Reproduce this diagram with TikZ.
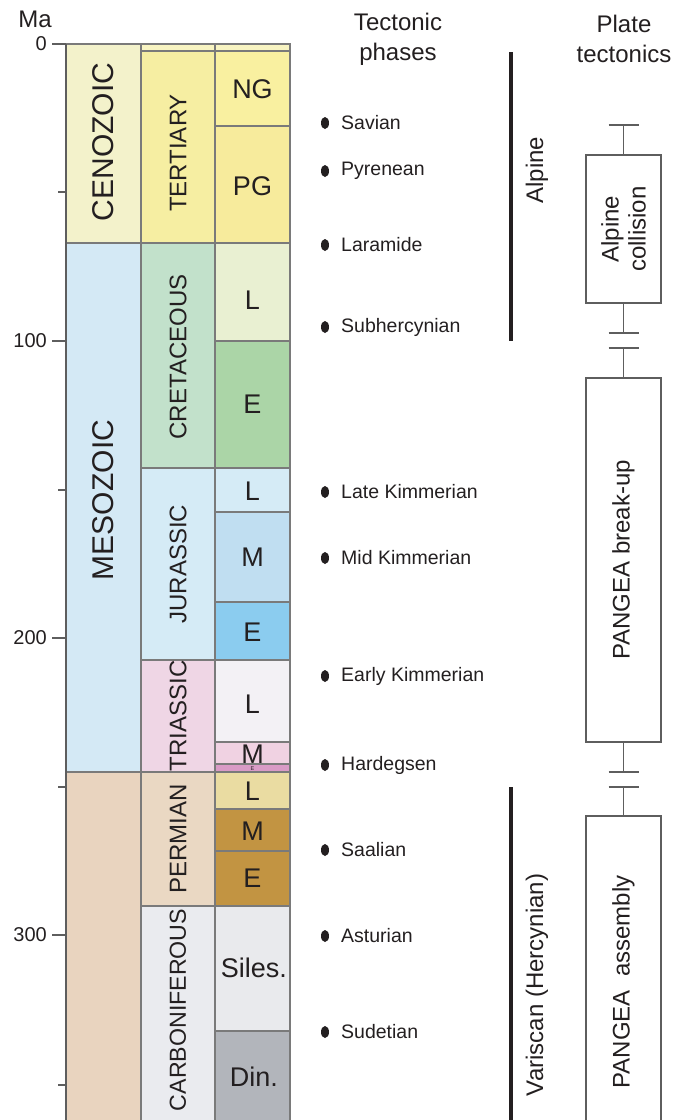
\documentclass[tikz,border=0pt]{standalone}
\usepackage{fontspec}
\setmainfont{Liberation Sans}
\usetikzlibrary{shapes.geometric}

\definecolor{ink}{HTML}{231F20}
\definecolor{gridgray}{HTML}{7A7A7A}
\definecolor{edgegray}{HTML}{5E5E5E}
\definecolor{ceno}{HTML}{F3F2CB}
\definecolor{meso}{HTML}{D4E9F5}
\definecolor{paleo}{HTML}{E9D4BF}
\definecolor{quat}{HTML}{F8F4C2}
\definecolor{tert}{HTML}{F6EEA2}
\definecolor{neog}{HTML}{F9F0A0}
\definecolor{paleog}{HTML}{F7EB9C}
\definecolor{cret}{HTML}{C2E1CB}
\definecolor{lcret}{HTML}{E9F0D2}
\definecolor{ecret}{HTML}{ABD5A7}
\definecolor{jur}{HTML}{D5EBF6}
\definecolor{ljur}{HTML}{D5EBF6}
\definecolor{mjur}{HTML}{C0DEF1}
\definecolor{ejur}{HTML}{8BCCEF}
\definecolor{tri}{HTML}{EFD6E5}
\definecolor{ltri}{HTML}{F3F1F5}
\definecolor{mtri}{HTML}{F0D2E2}
\definecolor{etri}{HTML}{D99BC6}
\definecolor{perm}{HTML}{EAD8C3}
\definecolor{lperm}{HTML}{EADCA2}
\definecolor{mperm}{HTML}{C29442}
\definecolor{eperm}{HTML}{C29442}
\definecolor{carb}{HTML}{EAEBEF}
\definecolor{siles}{HTML}{E9EAED}
\definecolor{dinan}{HTML}{B2B5BB}

\newcommand\gcell[5]{\filldraw[grid, fill=#5] (#1,#3) rectangle (#2,#4);}

\begin{document}
\begin{tikzpicture}[x=1pt, y=-1pt,
  grid/.style={draw=gridgray, line width=1.2pt},
  tickline/.style={draw=edgegray, line width=1.4pt},
  txt/.style={text=ink, inner sep=0pt},
  axislab/.style={txt, anchor=east, font=\fontsize{20}{22}\selectfont},
  head/.style={txt, align=center, font=\fontsize{24}{30}\selectfont},
  eralab/.style={txt, rotate=90, font=\fontsize{30}{32}\selectfont},
  perlab/.style={txt, rotate=90, font=\fontsize{24}{26}\selectfont},
  epolab/.style={txt, font=\fontsize{27}{29}\selectfont},
  phase/.style={txt, anchor=west, font=\fontsize{19.5}{22}\selectfont},
  dot/.style={shape=ellipse, fill=ink, draw=none, inner sep=0pt,
    minimum width=8pt, minimum height=12pt},
  orobar/.style={draw=ink, line width=4pt},
  orolab/.style={txt, rotate=90, font=\fontsize{24}{26}\selectfont},
  platebox/.style={draw=edgegray, line width=1.3pt, fill=white,
    minimum width=75pt, inner sep=0pt},
  platetxt/.style={txt, rotate=90, align=center,
    font=\fontsize{24}{27}\selectfont},
  whisker/.style={draw=edgegray, line width=1.5pt}]

\useasboundingbox (0,0) rectangle (685,1120);
\clip (0,0) rectangle (685,1120);

% ---------- eras ----------
\gcell{66}{141}{44}{243}{ceno}
\gcell{66}{141}{243}{772}{meso}
\gcell{66}{141}{772}{1135}{paleo}

% ---------- periods ----------
\gcell{141}{215}{44}{51}{quat}
\gcell{141}{215}{51}{243}{tert}
\gcell{141}{215}{243}{468}{cret}
\gcell{141}{215}{468}{660}{jur}
\gcell{141}{215}{660}{772}{tri}
\gcell{141}{215}{772}{906}{perm}
\gcell{141}{215}{906}{1135}{carb}

% ---------- epochs ----------
\gcell{215}{290}{44}{51}{quat}
\gcell{215}{290}{51}{126}{neog}
\gcell{215}{290}{126}{243}{paleog}
\gcell{215}{290}{243}{341}{lcret}
\gcell{215}{290}{341}{468}{ecret}
\gcell{215}{290}{468}{512}{ljur}
\gcell{215}{290}{512}{602}{mjur}
\gcell{215}{290}{602}{660}{ejur}
\gcell{215}{290}{660}{742}{ltri}
\gcell{215}{290}{742}{764}{mtri}
\begin{scope}
  \clip (215,742) rectangle (290,764);
  \node[epolab] (mtriT) at (252.5,754.5) {M};
\end{scope}
\gcell{215}{290}{764}{772}{etri}
\node[txt, font=\fontsize{5.5}{6}\selectfont] (etriT) at (252.5,769) {E};
\gcell{215}{290}{772}{809}{lperm}
\gcell{215}{290}{809}{851}{mperm}
\gcell{215}{290}{851}{906}{eperm}
\gcell{215}{290}{906}{1031}{siles}
\gcell{215}{290}{1031}{1135}{dinan}

% left edge of the column
\draw[draw=edgegray, line width=1.8pt] (66,44) -- (66,1125);

% ---------- time axis ----------
\foreach \yy/\lab in {44/0, 341/100, 638/200, 935/300}{
  \draw[tickline] (52,\yy) -- (66,\yy);
  \node[axislab] (ax\lab) at (47,\yy) {\lab};
}
\foreach \yy in {192, 490, 787, 1085}{
  \draw[tickline] (58,\yy) -- (66,\yy);
}
\node[txt, font=\fontsize{24}{26}\selectfont] (ma) at (35,19) {Ma};

% ---------- unit names ----------
\node[eralab] (cenoT) at (103.5,142) {CENOZOIC};
\node[eralab] (mesoT) at (103.5,500) {MESOZOIC};

\node[perlab] (tertT) at (178,153) {TERTIARY};
\node[perlab] (cretT) at (178,357) {CRETACEOUS};
\node[perlab] (jurT)  at (178,564) {JURASSIC};
\node[perlab] (triT)  at (178,716) {TRIASSIC};
\node[perlab] (permT) at (178,839) {PERMIAN};
\node[perlab, font=\fontsize{23.2}{25}\selectfont] (carbT) at (178,1010) {CARBONIFEROUS};

\node[epolab] (ngT)   at (252.5,89)  {NG};
\node[epolab] (pgT)   at (252.5,186) {PG};
\node[epolab] (lcT)   at (252.5,300) {L};
\node[epolab] (ecT)   at (252.5,404) {E};
\node[epolab] (ljT)   at (252.5,491) {L};
\node[epolab] (mjT)   at (252.5,557) {M};
\node[epolab] (ejT)   at (252.5,632) {E};
\node[epolab] (ltT)   at (252.5,704) {L};
\node[epolab] (lpT)   at (252.5,791) {L};
\node[epolab] (mpT)   at (252.5,831) {M};
\node[epolab] (epT)   at (252.5,878) {E};
\node[epolab] (silT)  at (254,968) {Siles.};
\node[epolab] (dinT)  at (254,1077) {Din.};

% ---------- headers ----------
\node[head] (hPhase) at (398,39) {Tectonic\\phases};
\node[head] (hPlate) at (624,39) {Plate\\tectonics};

% ---------- tectonic phases ----------
\foreach \i/\yy/\name in {1/123/Savian, 2/171/Pyrenean, 3/245/Laramide,
    4/327/Subhercynian, 5/492/Late Kimmerian, 6/558/Mid Kimmerian,
    7/676/Early Kimmerian, 8/765/Hardegsen, 9/850/Saalian,
    10/936/Asturian, 11/1032/Sudetian}{
  \node[dot] (dot\i) at (325,\yy) {};
  \node[phase] (ph\i) at (341,\yy) {\name};
}

% ---------- orogenies ----------
\coordinate (alpTop) at (511,52);
\coordinate (alpBot) at (511,341);
\draw[orobar] (alpTop) -- (alpBot);
\node[orolab] (alpT) at (537,170) {Alpine};

\coordinate (varTop) at (511,787);
\coordinate (varBot) at (511,1125);
\draw[orobar] (varTop) -- (varBot);
\node[orolab] (varT) at (537,985) {Variscan (Hercynian)};

% ---------- plate tectonics ----------
\node[platebox, minimum height=148pt] (box1) at (623.5,229) {};
\node[platetxt] (box1T) at (box1.center) {Alpine\\collision};
\node[platebox, minimum height=364pt] (box2) at (623.5,560) {};
\node[platetxt] (box2T) at (box2.center) {PANGEA break-up};
\node[platebox, minimum height=324pt] (box3) at (623.5,978) {};
\node[platetxt] (box3T) at (623.5,982) {PANGEA\ \ assembly};

\coordinate (c1) at (623.5,125);
\coordinate (c2) at (623.5,333);
\coordinate (c3) at (623.5,348);
\coordinate (c4) at (623.5,772);
\coordinate (c5) at (623.5,787);

\draw[whisker] (box1.north) -- (c1);
\draw[whisker] (box1.south) -- (c2);
\draw[whisker] (box2.north) -- (c3);
\draw[whisker] (box2.south) -- (c4);
\draw[whisker] (box3.north) -- (c5);
\foreach \c in {c1,c2,c3,c4,c5}{
  \draw[whisker] ([xshift=-15pt]\c) -- ([xshift=15pt]\c);
}
\end{tikzpicture}
\end{document}
